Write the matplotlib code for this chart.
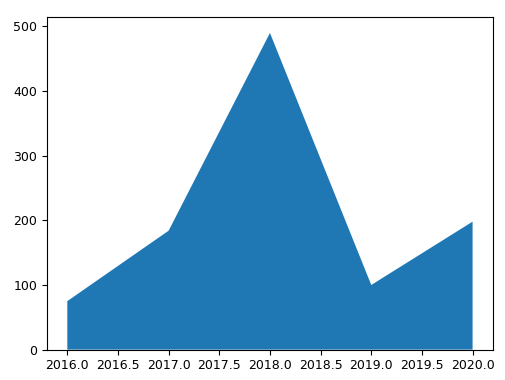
import matplotlib
matplotlib.use("Agg")
import matplotlib.pyplot as plt

years = [2016, 2017, 2018, 2019, 2020]
values = [75, 184, 490, 100, 198]

fig = plt.figure(figsize=(5.06, 3.80), dpi=100)
ax = fig.add_axes([0.093, 0.080, 0.881, 0.875])
ax.stackplot(years, values)
for lab in ax.get_xticklabels() + ax.get_yticklabels():
    lab.set_fontsize(9)
ax.tick_params(labelsize=9)
fig.savefig("out.png", dpi=100)
